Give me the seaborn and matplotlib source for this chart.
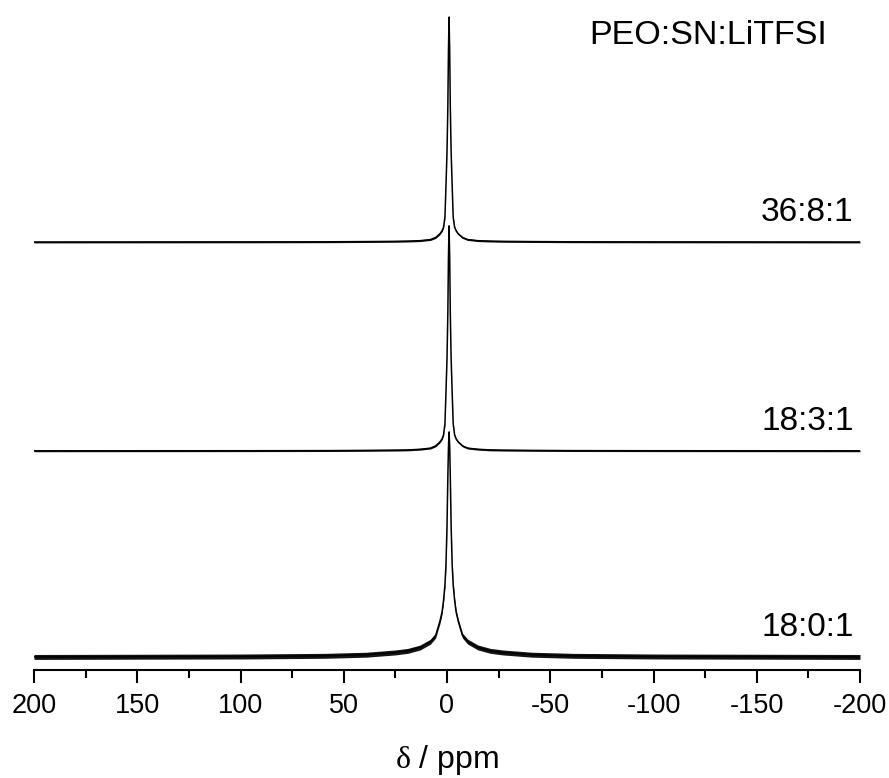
import matplotlib
matplotlib.use("Agg")
import matplotlib.pyplot as plt
import numpy as np
import pandas as pd
import seaborn as sns
from matplotlib.ticker import MultipleLocator, FixedLocator, FixedFormatter

# Chemical shift grid (ppm), dense around the 7Li resonance near -1 ppm
ppm = [200, 99, 59, 39, 25, 19, 13, 8, 5.5, 3.4, 2.4, 1.7, 1, 0.5, 0, -0.4, -0.7,
       -1,
       -1.3, -1.6, -2, -2.5, -3, -3.7, -4.4, -5.4, -7.5, -10, -15, -21, -27, -41, -61, -101, -200]

# Normalised intensities of each composition (PEO:SN:LiTFSI)
int_36_8_1 = [0, 0.0005, 0.001, 0.002, 0.003, 0.004, 0.006, 0.011, 0.02, 0.037, 0.05, 0.065, 0.11, 0.25, 0.4, 0.6, 0.85,
              1.0,
              0.85, 0.6, 0.4, 0.25, 0.11, 0.065, 0.05, 0.037, 0.02, 0.011, 0.006, 0.004, 0.003, 0.002, 0.001, 0.0005, 0]
int_18_3_1 = [0, 0.0005, 0.001, 0.002, 0.003, 0.004, 0.007, 0.012, 0.022, 0.04, 0.053, 0.07, 0.12, 0.26, 0.41, 0.61, 0.86,
              1.0,
              0.86, 0.61, 0.41, 0.26, 0.12, 0.07, 0.053, 0.04, 0.022, 0.012, 0.007, 0.004, 0.003, 0.002, 0.001, 0.0005, 0]
int_18_0_1 = [0, 0.002, 0.005, 0.01, 0.02, 0.027, 0.042, 0.068, 0.095, 0.16, 0.2, 0.25, 0.32, 0.41, 0.58, 0.8, 0.93,
              1.0,
              0.93, 0.8, 0.58, 0.41, 0.32, 0.25, 0.2, 0.16, 0.095, 0.068, 0.042, 0.027, 0.02, 0.01, 0.005, 0.002, 0]

samples = ["36:8:1", "18:3:1", "18:0:1"]
intensities = [int_36_8_1, int_18_3_1, int_18_0_1]
# Baseline noise half-amplitude of each spectrum (normalised units)
noise_amp = [0.004, 0.004, 0.011]

x_ticks = [200, 150, 100, 50, 0, -50, -100, -150, -200]
x_tick_labels = ["200", "150", "100", "50", "0", "-50", "-100", "-150", "-200"]

# Vertical stacking of the spectra
stack_offsets = [1.844, 0.916, 0.0]

frames = []
for name, vals, off in zip(samples, intensities, stack_offsets):
    frames.append(pd.DataFrame({"ppm": ppm, "y": np.asarray(vals) + off, "sample": name}))
df = pd.concat(frames, ignore_index=True)

sns.set_style("ticks")
plt.rcParams["font.family"] = ["Liberation Sans", "DejaVu Sans"]
plt.rcParams["mathtext.fontset"] = "custom"
plt.rcParams["mathtext.rm"] = "Liberation Serif"

fig = plt.figure(figsize=(8.89, 7.78), dpi=100)
ax = fig.add_axes([34 / 889, 108 / 778, (860 - 34) / 889, (670 - 15) / 778])

sns.lineplot(data=df, x="ppm", y="y", hue="sample", palette=["black"] * 3,
             estimator=None, sort=False, legend=False, linewidth=1.1, ax=ax)

for name, amp in zip(samples, noise_amp):
    sub = df[df["sample"] == name]
    ax.fill_between(sub["ppm"], sub["y"] - amp, sub["y"] + amp, color="black", lw=0, alpha=0.92)

for name, off in zip(samples, stack_offsets):
    ax.text(-197, off + 0.13, name, ha="right", va="center", fontsize=24, color="black")

fig.text(708 / 889, 1 - 36 / 778, "PEO:SN:LiTFSI", ha="center", va="center", fontsize=24.5, color="black")

ax.set_xlim(200, -200)
ax.set_ylim(-0.058, 2.853)

for s in ["left", "right", "top"]:
    ax.spines[s].set_visible(False)
ax.spines["bottom"].set_linewidth(1.5)
ax.spines["bottom"].set_color("black")
ax.set_yticks([])
ax.set_ylabel("")

ax.xaxis.set_major_locator(FixedLocator(x_ticks))
ax.xaxis.set_major_formatter(FixedFormatter(x_tick_labels))
ax.xaxis.set_minor_locator(MultipleLocator(25))
ax.tick_params(axis="x", which="major", direction="out", length=9.5, width=1.5,
               labelsize=19.5, pad=7, color="black", labelcolor="black")
ax.tick_params(axis="x", which="minor", direction="out", length=6, width=1.5, color="black")
ax.set_xlabel(r"$\mathrm{\delta}$ / ppm", fontsize=23, labelpad=17, color="black")

fig.savefig("out.png", dpi=100, facecolor="white")
